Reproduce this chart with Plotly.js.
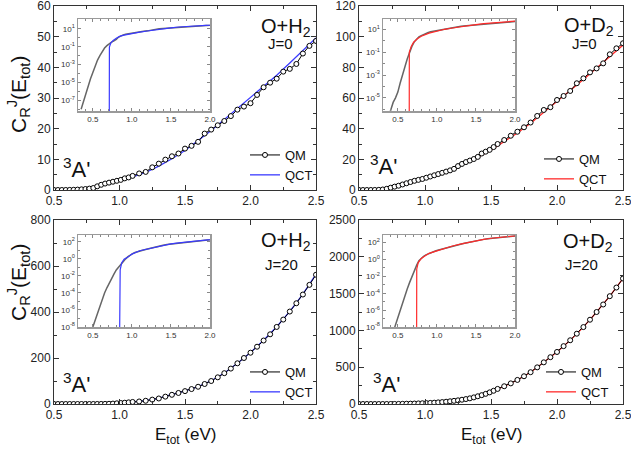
<!DOCTYPE html>
<html>
<head>
<meta charset="utf-8">
<script src="https://cdn.plot.ly/plotly-3.0.1.min.js"></script>
<style>html,body{margin:0;padding:0;background:#fff;}#chart{width:631px;height:450px;}</style>
</head>
<body>
<div id="chart"></div>
<script>
// ---------------- DATA ----------------
// Panel A: O+H2, J=0
const E_QM_H2_J0 = [0.35,0.38,0.41,0.44,0.47,0.50,0.53,0.56,0.59,0.62,0.65,0.68,0.71,0.74,0.77,0.80,0.83,0.86,0.89,0.92,0.95,0.98,1.01,1.04,1.07,1.10,
  1.15,1.20,1.25,1.30,1.35,1.40,1.45,1.50,1.55,1.60,1.65,1.70,1.75,1.80,1.85,1.90,1.95,2.00,2.05,2.10,2.15,2.20,2.25,2.30,2.35,2.40,2.45,2.50];
const C_QM_H2_J0 = [1e-8,8e-8,6e-7,4e-6,2.5e-5,1.3e-4,8e-4,3.2e-3,0.01,0.032,0.07,0.13,0.22,0.32,0.45,0.65,1.2,1.7,2.1,2.4,2.7,3.0,3.3,3.8,4.1,4.6,
  5.4,5.9,7.4,8.6,9.9,11.0,11.9,13.5,14.4,15.7,18.4,19.7,21.1,22.5,24.1,26.2,27.2,28.3,31.0,33.5,35.0,36.3,38.6,39.5,41.1,44.5,47.0,48.6];
const E_QCT_H2_J0 = [0.71,0.712,0.73,0.76,0.80,0.85,0.90,0.95,1.0,1.1,1.2,1.3,1.4,1.5,1.6,1.7,1.8,1.9,2.0,2.1,2.2,2.3,2.4,2.5];
const C_QCT_H2_J0 = [1e-12,0.09,0.25,0.5,0.9,1.5,2.0,2.5,3.1,4.3,5.7,7.8,10.2,12.9,16.0,19.4,23.0,26.6,30.0,33.6,37.4,41.4,45.4,49.6];

// Panel B: O+D2, J=0
const E_QM_D2_J0 = [0.38,0.41,0.44,0.47,0.50,0.53,0.56,0.59,0.62,0.65,0.68,0.71,0.74,0.77,0.80,0.83,0.86,0.89,0.92,0.95,0.98,1.01,1.04,1.07,1.10,
  1.13,1.16,1.19,1.22,1.25,1.28,1.31,1.34,1.37,1.40,1.43,1.46,1.49,1.52,
  1.55,1.60,1.65,1.70,1.75,1.80,1.85,1.90,1.95,2.00,2.05,2.10,2.15,2.20,2.25,2.30,2.35,2.40,2.45,2.50];
const C_QM_D2_J0 = [2e-7,1e-6,4e-6,1e-5,3.2e-5,2e-4,1.3e-3,5e-3,0.025,0.1,0.32,0.8,1.5,2.2,2.8,3.6,4.4,5.2,6.0,6.6,7.2,8.0,8.8,9.6,10.4,
  11.2,12.0,12.8,13.8,15.6,17.0,18.2,19.2,20.2,21.6,23.8,25.0,26.2,28.0,
  30.0,32.6,35.4,38.0,40.9,44.0,48.3,52.2,54.0,58.7,61.3,64.6,69.6,72.8,76.7,79.3,82.6,88.5,92.4,95.7];
const E_QCT_D2_J0 = [0.645,0.647,0.67,0.70,0.75,0.80,0.9,1.0,1.1,1.2,1.3,1.4,1.5,1.6,1.7,1.8,1.9,2.0,2.1,2.2,2.3,2.4,2.5];
const C_QCT_D2_J0 = [1e-12,0.1,0.3,0.7,1.5,2.5,4.6,7.2,10.0,13.0,17.0,21.4,26.0,31.5,37.2,43.5,50.5,57.5,64.5,72.0,79.5,87.0,94.5];

// Panel C: O+H2, J=20
const E_QM_H2_J20 = [0.47,0.50,0.53,0.56,0.59,0.62,0.65,0.68,0.71,0.74,0.77,0.80,0.83,0.86,0.89,0.92,0.95,0.98,1.01,1.04,1.07,1.10,
  1.15,1.20,1.25,1.30,1.35,1.40,1.45,1.50,1.55,1.60,1.65,1.70,1.75,1.80,1.85,1.90,1.95,2.00,2.05,2.10,2.15,2.20,2.25,2.30,2.35,2.40,2.45,2.50];
const C_QM_H2_J20 = [1.6e-9,1e-8,8e-8,5e-7,3.2e-6,2e-5,1e-4,4e-4,1.6e-3,5e-3,0.016,0.05,0.11,0.25,0.5,1.0,1.8,3.0,4.2,5.6,7.1,8.9,
  11,14,19,24,32,40,48,56,65,75,87,100,116,134,154,177,200,223,249,276,303,335,367,402,438,476,518,562];
const E_QCT_H2_J20 = [0.84,0.842,0.85,0.87,0.90,0.95,1.0,1.1,1.2,1.3,1.4,1.5,1.6,1.7,1.8,1.9,2.0,2.1,2.2,2.3,2.4,2.5];
const C_QCT_H2_J20 = [1e-12,0.004,0.05,0.35,0.9,1.6,3.6,9.0,15,25,40,57,76,101,135,177,224,277,336,403,478,565];

// Panel D: O+D2, J=20
const E_QM_D2_J20 = [0.44,0.47,0.50,0.53,0.56,0.59,0.62,0.65,0.68,0.71,0.74,0.77,0.80,0.83,0.86,0.89,0.92,0.95,0.98,1.01,1.04,1.07,1.10,
  1.13,1.16,1.19,1.22,1.25,1.28,1.31,1.34,1.37,1.40,1.43,1.46,1.49,1.52,
  1.55,1.60,1.65,1.70,1.75,1.80,1.85,1.90,1.95,2.00,2.05,2.10,2.15,2.20,2.25,2.30,2.35,2.40,2.45,2.50];
const C_QM_D2_J20 = [2.5e-9,2e-8,1.3e-7,1e-6,8e-6,5e-5,3.2e-4,1.8e-3,0.01,0.05,0.2,0.7,1.4,2.4,3.5,4.8,6.3,8,10,12.5,15,18,22,
  26,31,37,43,50,58,67,77,90,105,120,138,158,180,
  205,241,280,327,377,432,498,566,636,707,786,866,955,1045,1145,1250,1352,1465,1582,1705];
const E_QCT_D2_J20 = [0.74,0.742,0.76,0.80,0.85,0.90,1.0,1.1,1.2,1.3,1.4,1.5,1.6,1.7,1.8,1.9,2.0,2.1,2.2,2.3,2.4,2.5];
const C_QCT_D2_J20 = [1e-12,0.07,0.4,1.3,2.8,5.3,10.5,21,40,65,103,168,240,326,432,566,706,865,1045,1250,1465,1705];

// Inset log tick labels
const INSET_TICKS_A = [10, 0.1, 1e-3, 1e-5, 1e-7];
const INSET_TEXT_A  = ['10<sup>1</sup>','10<sup>-1</sup>','10<sup>-3</sup>','10<sup>-5</sup>','10<sup>-7</sup>'];
const INSET_TICKS_B = [10, 0.1, 1e-3, 1e-5];
const INSET_TEXT_B  = ['10<sup>1</sup>','10<sup>-1</sup>','10<sup>-3</sup>','10<sup>-5</sup>'];
const INSET_TICKS_CD = [100, 1, 1e-2, 1e-4, 1e-6, 1e-8];
const INSET_TEXT_CD  = ['10<sup>2</sup>','10<sup>0</sup>','10<sup>-2</sup>','10<sup>-4</sup>','10<sup>-6</sup>','10<sup>-8</sup>'];
const DECADES = [1e-9,1e-8,1e-7,1e-6,1e-5,1e-4,1e-3,1e-2,1e-1,1,10,100,1000];

// ---------------- STYLE ----------------
const FAM = 'Arial, "Liberation Sans", sans-serif';
const W = 631, H = 450;
const px = x => x / W;
const py = y => 1 - y / H;
const BLUE = '#3a3aff', RED = '#ff2a2a';

const panels = [
  {E:E_QM_H2_J0, C:C_QM_H2_J0, Eq:E_QCT_H2_J0, Cq:C_QCT_H2_J0, col:BLUE, n:1, ni:5, leg:'legend'},
  {E:E_QM_D2_J0, C:C_QM_D2_J0, Eq:E_QCT_D2_J0, Cq:C_QCT_D2_J0, col:RED,  n:2, ni:6, leg:'legend2'},
  {E:E_QM_H2_J20, C:C_QM_H2_J20, Eq:E_QCT_H2_J20, Cq:C_QCT_H2_J20, col:BLUE, n:3, ni:7, leg:'legend3'},
  {E:E_QM_D2_J20, C:C_QM_D2_J20, Eq:E_QCT_D2_J20, Cq:C_QCT_D2_J20, col:RED,  n:4, ni:8, leg:'legend4'}
];
const sfx = n => (n === 1 ? '' : String(n));

const traces = [];
panels.forEach(p => {
  const xm = 'x' + sfx(p.n), ym = 'y' + sfx(p.n);
  const xi = 'x' + p.ni, yi = 'y' + p.ni;
  traces.push({x:p.Eq, y:p.Cq, xaxis:xm, yaxis:ym, name:'QCT', mode:'lines', legend:p.leg,
    line:{color:p.col, width:1.3}});
  traces.push({x:p.E, y:p.C, xaxis:xm, yaxis:ym, name:'QM', mode:'lines+markers', legend:p.leg,
    line:{color:'#000', width:1}, marker:{symbol:'circle', size:5, color:'#fff', line:{color:'#000', width:1}}});
  traces.push({x:p.E, y:p.C, xaxis:xi, yaxis:yi, mode:'lines', showlegend:false,
    line:{color:'#666', width:1.5}});
  traces.push({x:p.Eq, y:p.Cq, xaxis:xi, yaxis:yi, mode:'lines', showlegend:false,
    line:{color:p.col, width:1.2}});
});

function mainX(dom, anchor){
  return {domain:dom, anchor:anchor, range:[0.5,2.5], tick0:0.5, dtick:0.5, tickformat:'.1f',
    showline:true, linecolor:'#333', linewidth:1, mirror:'allticks', ticks:'inside', ticklen:5, tickcolor:'#333',
    showgrid:false, zeroline:false, ticklabeloverflow:'allow', tickfont:{family:FAM, size:12, color:'#222'},
    minor:{ticks:'inside', ticklen:3, dtick:0.25, tickcolor:'#333'}};
}
function mainY(dom, anchor, rng, dt){
  return {domain:dom, anchor:anchor, range:rng, tick0:0, dtick:dt,
    showline:true, linecolor:'#333', linewidth:1, mirror:'allticks', ticks:'inside', ticklen:5, tickcolor:'#333',
    showgrid:false, zeroline:false, ticklabeloverflow:'allow', tickfont:{family:FAM, size:12, color:'#222'},
    minor:{ticks:'inside', ticklen:3, dtick:dt/2, tickcolor:'#333'}};
}
function insX(dom, anchor){
  return {domain:dom, anchor:anchor, range:[0.31,2.0], tick0:0.5, dtick:0.5, tickformat:'.1f',
    showline:true, linecolor:'#9a9a9a', linewidth:1.5, mirror:'allticks', ticks:'inside', ticklen:3, tickcolor:'#888',
    showgrid:false, zeroline:false, ticklabeloverflow:'allow', tickfont:{family:FAM, size:8, color:'#333'},
    minor:{ticks:'inside', ticklen:2, dtick:0.1, tickcolor:'#888'}};
}
function insY(dom, anchor, rng, tv, tt){
  return {domain:dom, anchor:anchor, type:'log', range:rng, tickmode:'array', tickvals:tv, ticktext:tt,
    showline:true, linecolor:'#9a9a9a', linewidth:1.5, mirror:'allticks', ticks:'inside', ticklen:3, tickcolor:'#888',
    showgrid:false, zeroline:false, ticklabeloverflow:'allow', tickfont:{family:FAM, size:8, color:'#333'},
    minor:{ticks:'inside', ticklen:2, tickmode:'array', tickvals:DECADES, tickcolor:'#888'}};
}

const XL = [px(54), px(316)], XR = [px(359), px(623)];
const YT = [py(190), py(6)], YB = [py(404), py(220)];
const IXL = [px(78), px(210)], IXR = [px(383), px(515)];
const IYT = [py(111), py(19)], IYB = [py(327), py(235)];

function legendAt(x, y){
  return {x:px(x), y:py(y), xanchor:'left', yanchor:'top', bgcolor:'rgba(0,0,0,0)', borderwidth:0,
    font:{family:FAM, size:13, color:'#111'}, itemwidth:30, traceorder:'reversed', tracegroupgap:0};
}

const ann = [];
function addText(text, x, y, size, extra){
  ann.push(Object.assign({text:text, xref:'paper', yref:'paper', x:px(x), y:py(y), xanchor:'center', yanchor:'middle',
    showarrow:false, font:{family:FAM, size:size, color:'#111'}}, extra || {}));
}
addText('O+H<sub>2</sub>', 286, 27, 20);
addText('J=0', 280, 44, 15);
addText('O+D<sub>2</sub>', 589, 26, 20);
addText('J=0', 584, 44, 15);
addText('O+H<sub>2</sub>', 286, 241, 20);
addText('J=20', 281, 264, 15);
addText('O+D<sub>2</sub>', 588, 242, 20);
addText('J=20', 581, 264, 15);
addText('<sup>3</sup>A\'', 76, 168, 22);
addText('<sup>3</sup>A\'', 383, 165, 22);
addText('<sup>3</sup>A\'', 76, 383, 22);
addText('<sup>3</sup>A\'', 386, 383, 22);
addText('C<sub>R</sub><sup>J</sup>(E<sub>tot</sub>)', 18, 95, 21, {textangle:-90});
addText('C<sub>R</sub><sup>J</sup>(E<sub>tot</sub>)', 18, 283, 21, {textangle:-90});
addText('E<sub>tot</sub> (eV)', 185, 436, 17);
addText('E<sub>tot</sub> (eV)', 491, 436, 17);

const layout = {
  width:W, height:H, margin:{l:0, r:0, t:0, b:0}, paper_bgcolor:'#fff', plot_bgcolor:'#fff',
  font:{family:FAM, color:'#111'},
  xaxis: mainX(XL, 'y'),  yaxis: mainY(YT, 'x', [0,60], 10),
  xaxis2: mainX(XR, 'y2'), yaxis2: mainY(YT, 'x2', [0,120], 20),
  xaxis3: mainX(XL, 'y3'), yaxis3: mainY(YB, 'x3', [0,800], 200),
  xaxis4: mainX(XR, 'y4'), yaxis4: mainY(YB, 'x4', [0,2500], 500),
  xaxis5: insX(IXL, 'y5'), yaxis5: insY(IYT, 'x5', [-8.2, 2.1], INSET_TICKS_A, INSET_TEXT_A),
  xaxis6: insX(IXR, 'y6'), yaxis6: insY(IYT, 'x6', [-6.15, 1.9], INSET_TICKS_B, INSET_TEXT_B),
  xaxis7: insX(IXL, 'y7'), yaxis7: insY(IYB, 'x7', [-8, 2.8], INSET_TICKS_CD, INSET_TEXT_CD),
  xaxis8: insX(IXR, 'y8'), yaxis8: insY(IYB, 'x8', [-8, 2.9], INSET_TICKS_CD, INSET_TEXT_CD),
  legend: legendAt(245, 140),
  legend2: legendAt(539, 144),
  legend3: legendAt(245, 357),
  legend4: legendAt(541, 357),
  annotations: ann,
  showlegend:true
};

Plotly.newPlot('chart', traces, layout, {staticPlot:true, displayModeBar:false});
</script>
</body>
</html>
